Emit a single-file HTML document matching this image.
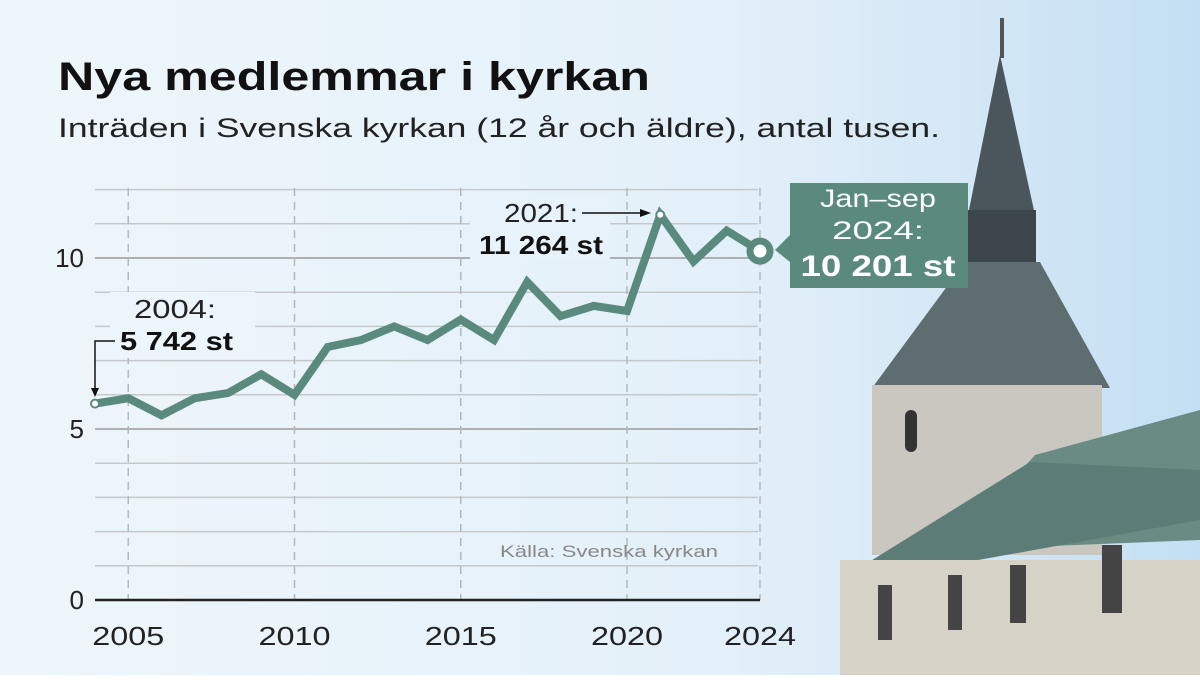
<!DOCTYPE html>
<html><head><meta charset="utf-8"><style>
html,body{margin:0;padding:0}
body{width:1200px;height:675px;overflow:hidden;font-family:"Liberation Sans",sans-serif}
</style></head><body>
<svg width="1200" height="675" viewBox="0 0 1200 675" id="svg">
<defs>
<linearGradient id="bg" x1="0" y1="0" x2="1" y2="0">
<stop offset="0" stop-color="#eef6fb"/><stop offset="0.6" stop-color="#e4f0f9"/><stop offset="1" stop-color="#c4dff3"/>
</linearGradient>
</defs>
<rect width="1200" height="675" fill="url(#bg)"/>
<g>
<polygon points="1000,55 1035,215 968,215" fill="#4b555c"/>
<rect x="968" y="210" width="68" height="55" fill="#3d464c"/>
<rect x="1000" y="18" width="4" height="40" fill="#555"/>
<polygon points="965,262 1040,262 1110,388 872,388" fill="#5e6e70"/>
<rect x="872" y="385" width="230" height="170" fill="#c9c7bf"/>
<rect x="905" y="410" width="12" height="42" rx="6" fill="#333"/>
<polygon points="1035,455 1200,410 1200,540 950,550" fill="#6a8a84"/>
<polygon points="840,580 1030,462 1200,470 1200,520 840,585" fill="#5c7c78"/>
<rect x="840" y="560" width="360" height="115" fill="#d6d2c8"/>
<rect x="878" y="585" width="14" height="55" fill="#444"/>
<rect x="948" y="575" width="14" height="55" fill="#444"/>
<rect x="1010" y="565" width="16" height="58" fill="#444"/>
<rect x="1102" y="545" width="20" height="68" fill="#444"/>
</g>
<text x="58" y="90" font-size="40" font-weight="bold" fill="#111" textLength="592" lengthAdjust="spacingAndGlyphs">Nya medlemmar i kyrkan</text>
<text x="58" y="137" font-size="27" fill="#222" textLength="882" lengthAdjust="spacingAndGlyphs">Inträden i Svenska kyrkan (12 år och äldre), antal tusen.</text>
<g id="grid"></g>
<g id="axes"></g>
<g id="series"></g>
<text x="718" y="557" font-size="17" fill="#888" text-anchor="end" textLength="218" lengthAdjust="spacingAndGlyphs">Källa: Svenska kyrkan</text>
</svg>
<script>
const years=[2004,2005,2006,2007,2008,2009,2010,2011,2012,2013,2014,2015,2016,2017,2018,2019,2020,2021,2022,2023,2024];
const values=[5.742,5.9,5.4,5.9,6.05,6.6,6.0,7.4,7.6,8.0,7.6,8.2,7.6,9.3,8.3,8.6,8.45,11.264,9.9,10.8,10.201];
const xTicks=[2005,2010,2015,2020,2024];
const yTicks=[0,5,10];
const NS="http://www.w3.org/2000/svg";
const x=v=>95+(v-2004)*33.25;
const y=v=>600-v*34.2;
function mk(t,a,p){const e=document.createElementNS(NS,t);for(const k in a)e.setAttribute(k,a[k]);p.appendChild(e);return e;}
const grid=document.getElementById('grid'),axes=document.getElementById('axes'),ser=document.getElementById('series');
for(let v=1;v<=12;v++){
 const major=v%5===0;
 const l=mk('line',{x1:95,x2:758,y1:y(v),y2:y(v),stroke:major?'#9a9a9a':'#c6c9cc','stroke-width':1.5},grid);
 
 
}
xTicks.forEach(t=>{
 const l=mk('line',{x1:x(t),x2:x(t),y1:188,y2:600,stroke:'#b5b8bb','stroke-width':1.5,'stroke-dasharray':'8,6'},grid);
 
 
 const tx=mk('text',{x:x(t),y:645,'font-size':26,fill:'#222','text-anchor':'middle',textLength:72,lengthAdjust:'spacingAndGlyphs'},axes);
 tx.textContent=t;
 
 
});
const base=mk('line',{x1:95,x2:760,y1:600,y2:600,stroke:'#222','stroke-width':2.5},axes);


yTicks.forEach(t=>{
 const tx=mk('text',{x:84,y:y(t)+9,'font-size':26,fill:'#222','text-anchor':'end'},axes);
 tx.textContent=t;
 
 
});
const pts=years.map((yr,i)=>x(yr)+','+y(values[i])).join(' ');
const pl=mk('polyline',{points:pts,fill:'none',stroke:'#5a8a7e','stroke-width':8,'stroke-linejoin':'miter'},ser);


const last=years.length-1;
const c1=mk('circle',{cx:x(years[0]),cy:y(values[0]),r:4,fill:'#fff',stroke:'#5a8a7e','stroke-width':2},ser);


const c2=mk('circle',{cx:x(2021),cy:y(values[17]),r:4,fill:'#fff',stroke:'#5a8a7e','stroke-width':2},ser);


const c3=mk('circle',{cx:x(years[last]),cy:y(values[last]),r:10,fill:'#fff',stroke:'#5a8a7e','stroke-width':7},ser);


const a=document.createElementNS(NS,'g');a.innerHTML=
'<rect x="110" y="292" width="145" height="66" fill="#ecf5fb"/>'+
'<text x="134" y="318" font-size="26" fill="#222" textLength="82" lengthAdjust="spacingAndGlyphs">2004:</text>'+
'<text x="120" y="350" font-size="26" font-weight="bold" fill="#111" textLength="113" lengthAdjust="spacingAndGlyphs">5 742 st</text>'+
'<polyline points="115,341 95,341 95,390" fill="none" stroke="#111" stroke-width="1.5"/>'+
'<polygon points="91,388 99,388 95,397" fill="#111"/>'+
'<rect x="470" y="196" width="140" height="64" fill="#e8f2fa"/>'+
'<text x="578" y="222" font-size="26" fill="#222" text-anchor="end" textLength="74" lengthAdjust="spacingAndGlyphs">2021:</text>'+
'<text x="603" y="254" font-size="26" font-weight="bold" fill="#111" text-anchor="end" textLength="124" lengthAdjust="spacingAndGlyphs">11 264 st</text>'+
'<line x1="582" y1="213" x2="642" y2="213" stroke="#111" stroke-width="1.5"/>'+
'<polygon points="640,209 651,213 640,217" fill="#111"/>'+
'<rect x="790" y="183" width="178" height="105" fill="#5a8a7e"/>'+
'<polygon points="790,235 775,250 790,262" fill="#5a8a7e"/>'+
'<text x="878" y="207" font-size="25" fill="#fff" text-anchor="middle" textLength="116" lengthAdjust="spacingAndGlyphs">Jan–sep</text>'+
'<text x="878" y="239" font-size="25" fill="#fff" text-anchor="middle" textLength="92" lengthAdjust="spacingAndGlyphs">2024:</text>'+
'<text x="878" y="276" font-size="30" font-weight="bold" fill="#fff" text-anchor="middle" textLength="155" lengthAdjust="spacingAndGlyphs">10 201 st</text>';


document.getElementById('svg').insertBefore(a,ser);
</script>
</body></html>
